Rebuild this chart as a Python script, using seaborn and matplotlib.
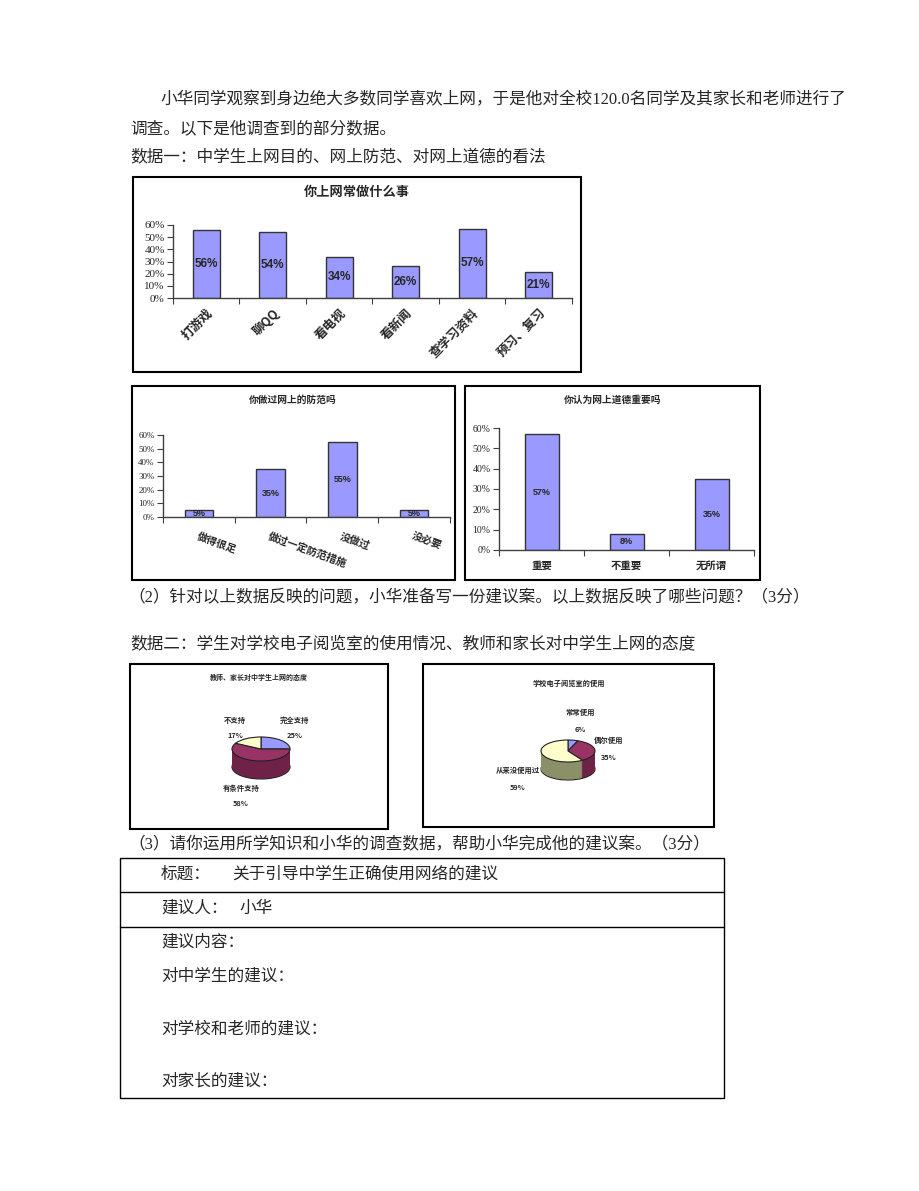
import matplotlib
matplotlib.use("Agg")
import numpy as np
import pandas as pd
import matplotlib.pyplot as plt
import seaborn as sns
from matplotlib.patches import Rectangle

W, H = 920, 1191

act_labels = ["打游戏", "聊QQ", "看电视", "看新闻", "查学习资料", "预习、复习"]
act_values = [56, 54, 34, 26, 57, 21]
guard_labels = ["做得很足", "做过一定防范措施", "没做过", "没必要"]
guard_values = [5, 35, 55, 5]
moral_labels = ["重要", "不重要", "无所谓"]
moral_values = [57, 8, 35]
attitude_labels = ["完全支持", "有条件支持", "不支持"]
attitude_values = [25, 58, 17]
usage_labels = ["常常使用", "偶尔使用", "从来没使用过"]
usage_values = [6, 35, 59]

BAR = "#9999FF"
TOP = ["#9999FF", "#993366", "#FFFFCC"]
SIDE1 = ["#6666AA", "#6E2248", "#B8B890"]
SIDE2 = ["#6666AA", "#6E2248", "#8C9068"]

sns.set_style("ticks")
CJK = ["Noto Sans CJK SC", "DejaVu Sans"]
MIX = ["Liberation Serif", "Noto Sans CJK SC"]
plt.rcParams["font.family"] = CJK

fig = plt.figure(figsize=(W / 100, H / 100), dpi=100)
bg = fig.add_axes([0, 0, 1, 1])
bg.set_xlim(0, W)
bg.set_ylim(H, 0)
bg.axis("off")


def px_axes(x0, y0, x1, y1):
    return fig.add_axes([x0 / W, 1 - y1 / H, (x1 - x0) / W, (y1 - y0) / H])


def txt(x, y, s, size=12, fam=MIX, **kw):
    bg.text(x, y, s, fontsize=size, family=fam, va="center", ha=kw.pop("ha", "left"), **kw)


def box(x0, y0, x1, y1, lw=1.5):
    bg.add_patch(Rectangle((x0, y0), x1 - x0, y1 - y0, fill=False, ec="black", lw=lw))


def bar_panel(rect, labels, values, tick_fs, lab_fs, val_fs, rot, ha, pad):
    ax = px_axes(*rect)
    df = pd.DataFrame({"cat": labels, "pct": values})
    sns.barplot(data=df, x="cat", y="pct", color=BAR, saturation=1, width=0.4,
                edgecolor="#333333", linewidth=1.0, ax=ax)
    n = len(labels)
    ax.set_xlim(-0.5, n - 0.5)
    ax.set_ylim(0, 60)
    ax.set_yticks(range(0, 61, 10))
    ax.set_yticklabels([f"{v}%" for v in range(0, 61, 10)], family="Liberation Serif",
                       fontsize=tick_fs)
    ax.set_xticks(range(n))
    ax.set_xticklabels(labels, fontsize=lab_fs, fontweight="bold", rotation=rot,
                       ha=ha, va="top", rotation_mode="anchor")
    ax.set_xticks(np.arange(-0.5, n, 1), minor=True)
    ax.tick_params(axis="x", which="major", length=0, pad=pad)
    ax.tick_params(axis="x", which="minor", length=4, width=0.8, color="#404040")
    ax.tick_params(axis="y", length=4, width=0.8, pad=2, color="#404040")
    ax.set_xlabel("")
    ax.set_ylabel("")
    sns.despine(ax=ax)
    for s in ("left", "bottom"):
        ax.spines[s].set_color("#404040")
        ax.spines[s].set_linewidth(1.0)
    for p, v in zip(ax.patches, values):
        ax.text(p.get_x() + p.get_width() / 2, v / 2, f"{v}%", ha="center", va="center",
                fontsize=val_fs, fontweight="bold", family="Liberation Sans")
    return ax


def pie_panel(cx, cy, rx, ry, depth, values, side):
    ax = px_axes(cx - rx - 6, cy - ry - 6, cx + rx + 6, cy + ry + depth + 6)
    d = depth / ry
    kw = dict(startangle=90, counterclock=False, radius=1.0)
    ax.pie(values, colors=side, center=(0, -d),
           wedgeprops=dict(edgecolor="#222222", linewidth=0.8), **kw)
    for off in np.linspace(d, 0, 30)[1:-1]:
        ax.pie(values, colors=side, center=(0, -off), wedgeprops=dict(linewidth=0), **kw)
    ax.pie(values, colors=TOP, center=(0, 0),
           wedgeprops=dict(edgecolor="#222222", linewidth=0.8), **kw)
    ax.set_aspect("auto")
    ax.set_xlim(-(rx + 6) / rx, (rx + 6) / rx)
    ax.set_ylim(-(ry + depth + 6) / ry, (ry + 6) / ry)
    ax.axis("off")
    return ax


# ---- running text ----------------------------------------------------------
txt(160, 100, "小华同学观察到身边绝大多数同学喜欢上网，于是他对全校120.0名同学及其家长和老师进行了")
txt(130, 129, "调查。以下是他调查到的部分数据。")
txt(130, 158, "数据一：中学生上网目的、网上防范、对网上道德的看法")
txt(128, 598, "（2）针对以上数据反映的问题，小华准备写一份建议案。以上数据反映了哪些问题？（3分）")
txt(130, 644, "数据二：学生对学校电子阅览室的使用情况、教师和家长对中学生上网的态度")
txt(128, 845, "（3）请你运用所学知识和小华的调查数据，帮助小华完成他的建议案。（3分）")

# ---- chart frames and titles ----------------------------------------------
box(133, 177, 581, 372)
box(132, 386, 455, 580)
box(465, 386, 760, 580)
box(130, 664, 388, 829)
box(423, 664, 714, 827)
txt(357, 192, "你上网常做什么事", size=9.5, fam=CJK, ha="center", fontweight="bold")
txt(293, 400, "你做过网上的防范吗", size=7, fam=CJK, ha="center", fontweight="bold")
txt(613, 400, "你认为网上道德重要吗", size=7, fam=CJK, ha="center", fontweight="bold")
txt(259, 677, "教师、家长对中学生上网的态度", size=5, fam=CJK, ha="center", fontweight="bold")
txt(569, 683, "学校电子阅览室的使用", size=5.2, fam=CJK, ha="center", fontweight="bold")

# ---- bar charts ------------------------------------------------------------
bar_panel((173, 225, 572, 298), act_labels, act_values, 8, 9, 8.5, 45, "right", 6)
bar_panel((163, 435, 450, 517), guard_labels, guard_values, 6.5, 7.5, 6.5, -20, "left", 10)
bar_panel((499, 428, 754, 550), moral_labels, moral_values, 7, 7.5, 6.5, 0, "center", 8)

# ---- 3-D style pies --------------------------------------------------------
pie_panel(261, 749, 29, 12, 18, attitude_values, SIDE1)
pie_panel(568, 751, 27, 11, 18, usage_values, SIDE2)
pie_text = dict(size=5.3, fam=CJK, ha="center", fontweight="bold")
att_pos = [(295, 720), (241, 788), (235, 720)]
for (x, y), lab, v in zip(att_pos, attitude_labels, attitude_values):
    txt(x, y, lab, **pie_text)
    txt(x, y + 15, f"{v}%", **pie_text)
use_pos = [(580, 712), (609, 740), (518, 770)]
for (x, y), lab, v in zip(use_pos, usage_labels, usage_values):
    txt(x, y, lab, **pie_text)
    txt(x, y + 17, f"{v}%", **pie_text)

# ---- proposal table --------------------------------------------------------
box(120, 858, 724, 1098, lw=1.0)
bg.plot([120, 724], [892, 892], color="black", lw=1.0)
bg.plot([120, 724], [927, 927], color="black", lw=1.0)
txt(161, 875, "标题：")
txt(232, 875, "关于引导中学生正确使用网络的建议")
txt(161, 909, "建议人：")
txt(239, 909, "小华")
txt(161, 943, "建议内容：")
txt(161, 977, "对中学生的建议：")
txt(161, 1030, "对学校和老师的建议：")
txt(161, 1082, "对家长的建议：")

fig.savefig("out.png", dpi=100)
